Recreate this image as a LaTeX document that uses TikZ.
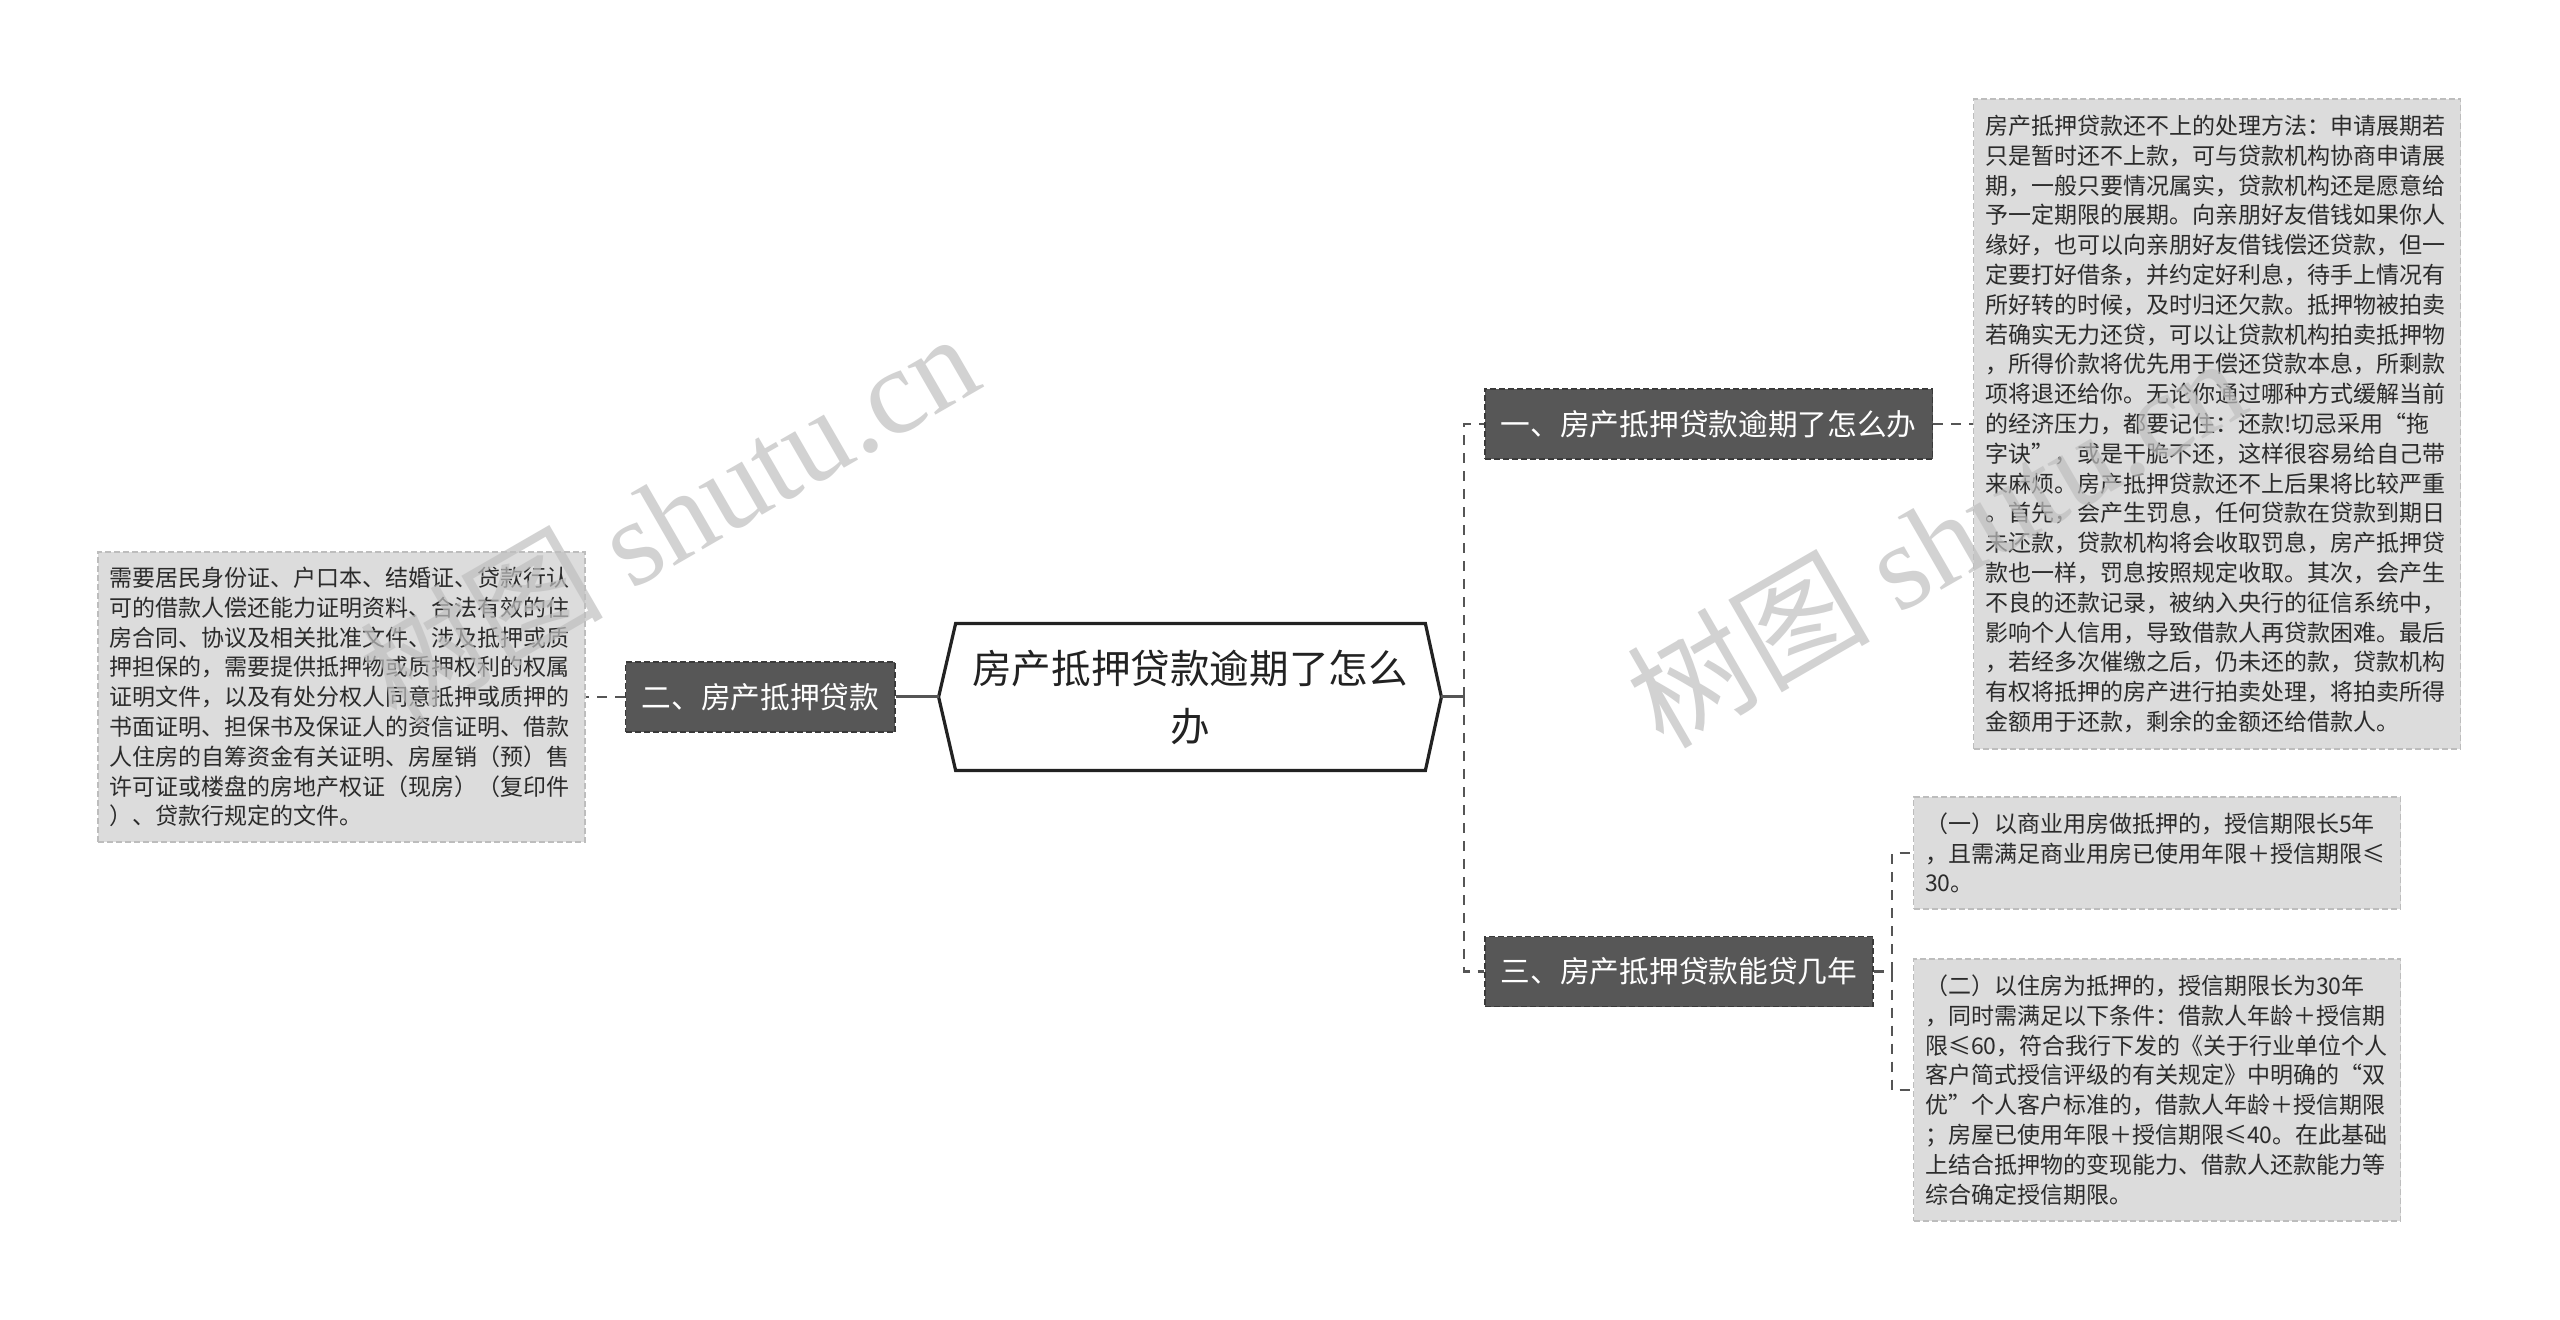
\documentclass[tikz,border=0pt]{standalone}
\usepackage{fontspec}
\setmainfont{Noto Sans CJK SC}
\newfontfamily\wmserif{Liberation Serif}
\usetikzlibrary{calc}
\definecolor{darknode}{HTML}{575757}
\definecolor{darkborder}{HTML}{3A3A3A}
\definecolor{boxfill}{HTML}{DCDCDC}
\definecolor{boxborder}{HTML}{BDBDBD}
\definecolor{boxtext}{HTML}{2B2B2B}
\definecolor{linegray}{HTML}{555555}
\definecolor{hexline}{HTML}{222222}
\begin{document}
\begin{tikzpicture}[x=0.5pt,y=-0.5pt,
  conn/.style={draw=linegray, line width=1.1pt, dash pattern=on 5pt off 4pt},
  solidconn/.style={draw=linegray, line width=1.5pt},
  branch/.style={fill=darknode, draw=darkborder, line width=0.8pt, dash pattern=on 3pt off 1.5pt,
    text=white, font=\fontsize{14.85}{18}\selectfont, inner xsep=8pt, inner ysep=0pt, minimum height=35pt},
  leaf/.style={fill=boxfill, draw=boxborder, line width=0.8pt, dash pattern=on 3pt off 1.5pt,
    text=boxtext, font=\fontsize{11.5}{14.9}\selectfont, align=left, text width=232pt,
    inner xsep=5.75pt, inner ysep=0pt},
  rootnode/.style={align=center, font=\fontsize{19.8}{29}\selectfont, text=hexline,
    minimum width=251pt, minimum height=73pt, inner sep=0pt},
  hexborder/.style={draw=hexline, line width=1.6pt, fill=white, line join=miter},
  wm/.style={text=black!25, text opacity=0.7, font=\fontsize{61}{64}\selectfont, inner sep=0pt}
]
\useasboundingbox (0,0) rectangle (2560,1320);
\fill[white] (0,0) rectangle (2560,1320);

% central node
\node[rootnode] (root) at (1190,697) {};
\draw[hexborder] (root.west) -- ($(root.north west)+(17,0)$) -- ($(root.north east)+(-16,0)$)
  -- (root.east) -- ($(root.south east)+(-16,0)$) -- ($(root.south west)+(17,0)$) -- cycle;
\node[rootnode] at (root.center) {房产抵押贷款逾期了怎么\\办};

% branch nodes
\node[branch, anchor=east] (N2) at (896,697) {二、房产抵押贷款};
\node[branch, anchor=west] (N1) at (1484,424) {一、房产抵押贷款逾期了怎么办};
\node[branch, anchor=west] (N3) at (1484,971.5) {三、房产抵押贷款能贷几年};

% leaf boxes
\node[leaf, minimum height=145pt] (L) at (341.5,697) {需要居民身份证、户口本、结婚证、贷款行认\\
可的借款人偿还能力证明资料、合法有效的住\\
房合同、协议及相关批准文件、涉及抵押或质\\
押担保的，需要提供抵押物或质押权利的权属\\
证明文件，以及有处分权人同意抵押或质押的\\
书面证明、担保书及保证人的资信证明、借款\\
人住房的自筹资金有关证明、房屋销（预）售\\
许可证或楼盘的房地产权证（现房）（复印件\\
）、贷款行规定的文件。};

\node[leaf, minimum height=325pt] (R1) at (2217,424) {房产抵押贷款还不上的处理方法：申请展期若\\
只是暂时还不上款，可与贷款机构协商申请展\\
期，一般只要情况属实，贷款机构还是愿意给\\
予一定期限的展期。向亲朋好友借钱如果你人\\
缘好，也可以向亲朋好友借钱偿还贷款，但一\\
定要打好借条，并约定好利息，待手上情况有\\
所好转的时候，及时归还欠款。抵押物被拍卖\\
若确实无力还贷，可以让贷款机构拍卖抵押物\\
，所得价款将优先用于偿还贷款本息，所剩款\\
项将退还给你。无论你通过哪种方式缓解当前\\
的经济压力，都要记住：还款!切忌采用“拖\\
字诀”，或是干脆不还，这样很容易给自己带\\
来麻烦。房产抵押贷款还不上后果将比较严重\\
。首先，会产生罚息，任何贷款在贷款到期日\\
未还款，贷款机构将会收取罚息，房产抵押贷\\
款也一样，罚息按照规定收取。其次，会产生\\
不良的还款记录，被纳入央行的征信系统中，\\
影响个人信用，导致借款人再贷款困难。最后\\
，若经多次催缴之后，仍未还的款，贷款机构\\
有权将抵押的房产进行拍卖处理，将拍卖所得\\
金额用于还款，剩余的金额还给借款人。};

\node[leaf, minimum height=56pt] (B1) at (2157,853) {（一）以商业用房做抵押的，授信期限长5年\\
，且需满足商业用房已使用年限＋授信期限≤\\
30。};

\node[leaf, minimum height=131pt] (B2) at (2157,1090) {（二）以住房为抵押的，授信期限长为30年\\
，同时需满足以下条件：借款人年龄＋授信期\\
限≤60，符合我行下发的《关于行业单位个人\\
客户简式授信评级的有关规定》中明确的“双\\
优”个人客户标准的，借款人年龄＋授信期限\\
；房屋已使用年限＋授信期限≤40。在此基础\\
上结合抵押物的变现能力、借款人还款能力等\\
综合确定授信期限。};

% connectors
\coordinate (j1) at (1464,697);
\coordinate (j2) at (1892,971.5);
\draw[solidconn] (root.west) -- (N2.east);
\draw[conn] (N2.west) -- (L.east);
\draw[solidconn] (root.east) -- (j1);
\draw[conn] (j1) |- (N1.west);
\draw[conn] (j1) |- (N3.west);
\draw[conn] (N1.east) -- (R1.west);
\draw[conn] (N3.east) -- (j2);
\draw[conn] (j2) |- (B1.west);
\draw[conn] (j2) |- (B2.west);

% watermarks
\node[wm, rotate=30] (wm1) at (668,516) {树图 {\wmserif shutu.cn}};
\node[wm, rotate=30] (wm2) at (1935,540) {树图 {\wmserif shutu.cn}};
\end{tikzpicture}
\end{document}
